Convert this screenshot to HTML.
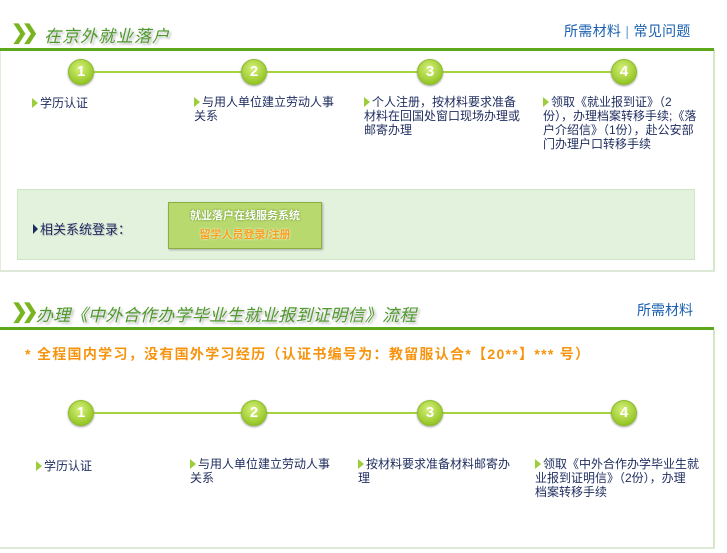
<!DOCTYPE html>
<html><head><meta charset="utf-8"><style>
*{margin:0;padding:0}
body{width:727px;height:553px;background:#fff;position:relative;overflow:hidden;font-family:"Liberation Sans","Noto Sans CJK SC",sans-serif;}
.a{position:absolute}
.title{font-size:17px;color:#4f9a2c;font-style:italic;text-shadow:2px 2px 2px #bbb;white-space:nowrap;letter-spacing:1px}
.rule{height:3px;background:#5ea81b;left:0;width:714px}
.line{height:2px;background:#a5d33c}
.c{width:24px;height:24px;border-radius:50%;background:radial-gradient(circle at 45% 35%,#d6f07a,#98c82a 70%,#7aa81a);border:1px solid #8cbc2a;color:#fff;font-weight:bold;font-size:15px;text-align:center;line-height:24px;box-shadow:0 1px 2px #999}
.t{font-size:12px;line-height:14px;color:#1e2c5e;white-space:nowrap}
.t b{display:inline-block;width:0;height:0;border-left:6px solid #9ccd3a;border-top:5px solid transparent;border-bottom:5px solid transparent;margin-right:2px;vertical-align:-1px}
.lnk{font-size:14px;color:#1a5fb0;white-space:nowrap}
.chev{font-weight:bold;font-size:20px;color:#79b521;letter-spacing:-6px}
</style></head><body>
<div class="a" style="left:0;top:50px;width:1px;height:220px;background:#dfeed8"></div>
<div class="a" style="left:713px;top:50px;width:2px;height:222px;background:#d3e8c8"></div>
<div class="a" style="left:0;top:270px;width:715px;height:2px;background:#dde8d6"></div>
<div class="a chev" style="left:11px;top:20px">❯❯</div>
<div class="a title" style="left:44px;top:22px">在京外就业落户</div>
<div class="a lnk" style="left:564px;top:21px;letter-spacing:0.3px">所需材料 <span style="color:#6aa0d8">|</span> 常见问题</div>
<div class="a rule" style="top:48px"></div>
<div class="a line" style="left:81px;top:71px;width:543px"></div>
<div class="a c" style="left:68px;top:59px">1</div>
<div class="a c" style="left:241px;top:59px">2</div>
<div class="a c" style="left:417px;top:59px">3</div>
<div class="a c" style="left:611px;top:59px">4</div>
<div class="a t" style="left:32px;top:96px"><b></b>学历认证</div>
<div class="a t" style="left:194px;top:95px"><b></b>与用人单位建立劳动人事<br>关系</div>
<div class="a t" style="left:364px;top:95px"><b></b>个人注册，按材料要求准备<br>材料在回国处窗口现场办理或<br>邮寄办理</div>
<div class="a t" style="left:543px;top:95px"><b></b>领取《就业报到证》（2<br>份），办理档案转移手续;《落<br>户介绍信》（1份），赴公安部<br>门办理户口转移手续</div>
<div class="a" style="left:17px;top:189px;width:676px;height:69px;background:#e2f2dd;border:1px solid #cfe6c6"></div>
<div class="a" style="left:33px;top:219px;font-size:13px;color:#1e2c5e;text-shadow:1px 1px 1px #bbb"><span style="display:inline-block;border-left:5px solid #1e2c5e;border-top:5px solid transparent;border-bottom:5px solid transparent;margin-right:2px"></span>相关系统登录：</div>
<div class="a" style="left:168px;top:202px;width:154px;height:47px;background:#b8d96e;border:1px solid #8ab044;text-align:center;font-size:11px;font-weight:bold;line-height:19px;padding-top:4px;box-sizing:border-box;box-shadow:1px 1px 2px #aaa"><div style="color:#fff;text-shadow:0 0 2px #5a8a1a">就业落户在线服务系统</div><div style="color:#f7a020;text-shadow:0 0 2px #fff">留学人员登录/注册</div></div>

<div class="a" style="left:713px;top:330px;width:2px;height:218px;background:#d3e8c8"></div>
<div class="a" style="left:0;top:547px;width:715px;height:2px;background:#dde8d6"></div>
<div class="a chev" style="left:11px;top:299px">❯❯</div>
<div class="a title" style="left:36px;top:301px;letter-spacing:0.3px">办理《中外合作办学毕业生就业报到证明信》流程</div>
<div class="a lnk" style="left:637px;top:300px">所需材料</div>
<div class="a rule" style="top:327px"></div>
<div class="a" style="left:25px;top:344px;font-size:14px;font-weight:bold;color:#f7940f;white-space:nowrap;letter-spacing:1.3px">* 全程国内学习，没有国外学习经历（认证书编号为：教留服认合*【20**】*** 号）</div>
<div class="a line" style="left:81px;top:412px;width:543px"></div>
<div class="a c" style="left:68px;top:400px">1</div>
<div class="a c" style="left:241px;top:400px">2</div>
<div class="a c" style="left:417px;top:400px">3</div>
<div class="a c" style="left:611px;top:400px">4</div>
<div class="a t" style="left:36px;top:459px"><b></b>学历认证</div>
<div class="a t" style="left:190px;top:457px"><b></b>与用人单位建立劳动人事<br>关系</div>
<div class="a t" style="left:358px;top:457px"><b></b>按材料要求准备材料邮寄办<br>理</div>
<div class="a t" style="left:535px;top:457px"><b></b>领取《中外合作办学毕业生就<br>业报到证明信》（2份），办理<br>档案转移手续</div>
</body></html>
